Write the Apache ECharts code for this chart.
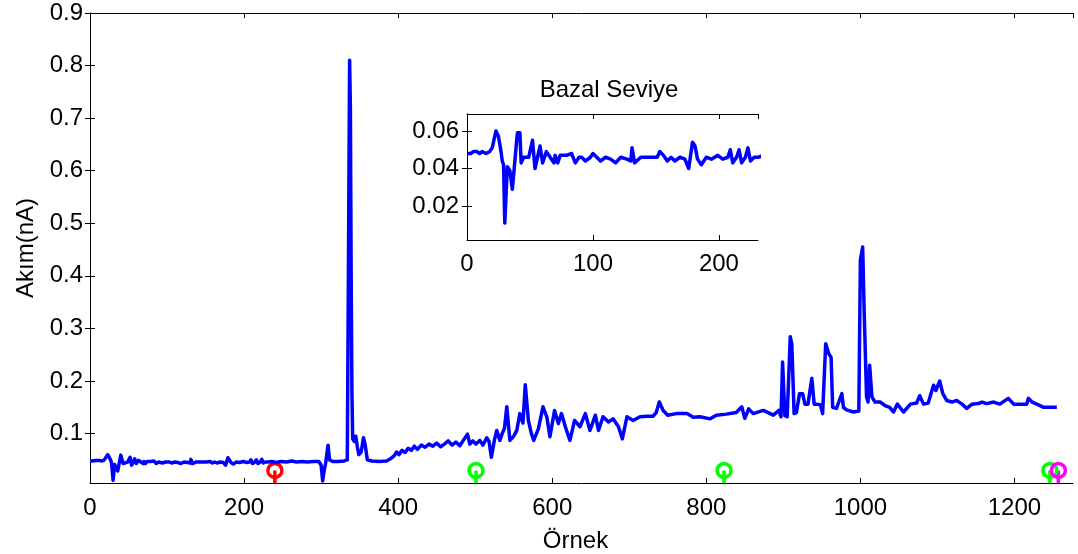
<!DOCTYPE html>
<html>
<head>
<meta charset="utf-8">
<script src="https://cdn.jsdelivr.net/npm/echarts@6/dist/echarts.min.js"></script>
<style>html,body{margin:0;padding:0;background:#fff}#c{width:1078px;height:554px}</style>
</head>
<body>
<div id="c"></div>
<script>
// Sample index (Örnek) and current (Akım, nA)
const sampleIdx = [0,3,5,8,10,12,15,18,20,23,25,27,28,29,30,32,34,36,38,40,42,43,45,49,52,54,56,58,60,63,66,69,70,72,74,79,83,86,89,91,94,98,100,103,106,110,114,118,122,127,130,131,133,138,143,151,153,156,159,162,165,169,173,176,179,181,183,186,190,194,199,203,207,209,211,214,216,218,221,223,225,228,231,
236,242,248,255,262,268,275,282,290,297,300,302,304,306,309,311,315,322,330,334,335,337,338,339,340,341,343,345,347,349,352,355,357,360,366,375,385,390,395,398,401,405,409,413,417,421,425,430,435,440,445,450,455,460,465,470,475,480,485,490,493,497,501,506,510,515,518,521,525,528,532,535,538,541,545,550,554,558,562,565,569,573,576,582,588,593,597,603,608,612,617,623,629,636,643,649,656,660,666,673,679,686,691,697,705,714,723,731,735,739,744,750,761,775,783,792,805,813,826,839,846,850,855,861,874,887,894,897,899,902,905,909,911,914,917,921,925,928,932,937,940,943,948,951,955,959,962,964,969,976,978,982,991,998,1000,1003,1005,1008,1010,1012,1015,1019,1026,1032,1038,1043,1048,1056,1065,1073,1077,1082,1088,1095,1098,1103,1107,1112,1119,1125,1132,1138,1145,1153,1158,1164,1173,1181,1192,1199,1216,1218,1223,1229,1238,1246,1255];
const current = [0.048,0.048,0.049,0.049,0.048,0.049,0.048,0.049,0.051,0.060,0.057,0.049,0.044,0.042,0.011,0.041,0.039,0.029,0.044,0.059,0.059,0.043,0.046,0.046,0.055,0.040,0.046,0.052,0.043,0.049,0.046,0.043,0.047,0.043,0.047,0.047,0.048,0.043,0.046,0.046,0.044,0.046,0.048,0.046,0.044,0.046,0.045,0.043,0.046,0.045,0.044,0.051,0.043,0.046,0.046,0.046,0.049,0.047,0.044,0.046,0.044,0.046,0.045,0.040,0.054,0.052,0.045,0.042,0.046,0.045,0.047,0.045,0.046,0.050,0.043,0.046,0.050,0.043,0.046,0.051,0.044,0.046,0.046,
0.047,0.045,0.047,0.046,0.048,0.046,0.047,0.046,0.047,0.047,0.040,0.010,0.030,0.045,0.078,0.050,0.047,0.047,0.048,0.050,0.30,0.81,0.72,0.40,0.18,0.09,0.085,0.095,0.075,0.060,0.065,0.092,0.080,0.050,0.048,0.047,0.048,0.052,0.058,0.065,0.060,0.068,0.064,0.072,0.068,0.076,0.070,0.078,0.074,0.080,0.076,0.082,0.075,0.080,0.086,0.078,0.084,0.077,0.088,0.099,0.080,0.086,0.080,0.087,0.078,0.092,0.085,0.055,0.088,0.106,0.087,0.100,0.110,0.151,0.087,0.095,0.106,0.138,0.120,0.193,0.125,0.100,0.087,0.109,0.151,0.132,0.094,0.144,0.119,0.138,0.113,0.087,0.125,0.113,0.138,0.106,0.135,0.106,0.132,0.122,0.128,0.113,0.090,0.132,0.125,0.132,0.133,0.133,0.140,0.160,0.144,0.135,0.138,0.138,0.131,0.132,0.128,0.135,0.137,0.140,0.151,0.129,0.147,0.138,0.144,0.135,0.144,0.132,0.236,0.134,0.132,0.284,0.270,0.138,0.140,0.176,0.176,0.156,0.156,0.205,0.156,0.156,0.155,0.138,0.271,0.252,0.245,0.150,0.148,0.176,0.150,0.145,0.141,0.143,0.43,0.455,0.329,0.170,0.160,0.230,0.170,0.160,0.160,0.153,0.150,0.141,0.156,0.141,0.156,0.158,0.172,0.156,0.158,0.192,0.182,0.200,0.176,0.163,0.160,0.163,0.156,0.148,0.156,0.157,0.160,0.157,0.160,0.156,0.167,0.156,0.156,0.167,0.160,0.156,0.150,0.150,0.150];

// Event markers (stems)
const markerX = [240, 501, 823, 1246, 1257];
const markerY = [0.03, 0.03, 0.03, 0.03, 0.03];
const markerColors = ['#ff0000', '#00ff00', '#00ff00', '#00ff00', '#ff00ff'];

// Tick labels
const mainYTicks = [0.1,0.2,0.3,0.4,0.5,0.6,0.7,0.8,0.9];
const insetYTicks = [0.02,0.04,0.06];

const xTitle = 'Örnek';
const yTitle = 'Akım(nA)';
const insetTitle = 'Bazal Seviye';

const FONT = "'Liberation Sans', Arial, sans-serif";
const MAIN_YMIN = 0.006, MAIN_YMAX = 0.9;
const INSET_YMIN = 0.002, INSET_YMAX = 0.069;

const lineData = sampleIdx.map((x, i) => [x, current[i]]);

const axisLine = {show: true, lineStyle: {color: '#000', width: 1}};
const tickIn = {show: true, inside: true, length: 5, lineStyle: {color: '#000', width: 1}};
const lblStyle = {color: '#000', fontSize: 24, fontFamily: FONT};
const plainNum = v => String(Math.round(v));

const series = [];
markerX.forEach((x, i) => {
  const c = markerColors[i];
  series.push({
    type: 'line', xAxisIndex: 0, yAxisIndex: 0,
    data: [[x, MAIN_YMIN], [x, markerY[i]]],
    lineStyle: {color: c, width: 3.5}, itemStyle: {color: c},
    showSymbol: false, symbol: 'none', silent: true, z: 2
  });
  series.push({
    type: 'scatter', xAxisIndex: 0, yAxisIndex: 0,
    data: [[x, markerY[i]]], symbol: 'circle', symbolSize: 14,
    itemStyle: {color: 'rgba(0,0,0,0)', borderColor: c, borderWidth: 3.5, opacity: 1},
    silent: true, z: 2
  });
});
series.push({
  type: 'line', xAxisIndex: 0, yAxisIndex: 0, data: lineData,
  showSymbol: false, lineStyle: {color: '#0000ff', width: 3.5, join: 'round'}, z: 3
});
series.push({
  type: 'line', xAxisIndex: 2, yAxisIndex: 2, data: lineData,
  showSymbol: false, lineStyle: {color: '#0000ff', width: 3.5, join: 'round'}, clip: true, z: 5
});

const option = {
  animation: false,
  backgroundColor: '#fff',
  title: {
    text: insetTitle, left: 604, top: 73, textAlign: 'center',
    textStyle: {color: '#000', fontSize: 24, fontWeight: 'normal', fontFamily: FONT}
  },
  grid: [
    {left: 90, top: 13, width: 983, height: 470, show: false, containLabel: false, outerBoundsMode: 'none'},
    {left: 467, top: 114, width: 291, height: 126, show: true, backgroundColor: '#fff', borderWidth: 0, z: 4,
     containLabel: false, outerBoundsMode: 'none'}
  ],
  xAxis: [
    {type: 'value', gridIndex: 0, position: 'bottom', min: 0, max: 1276, interval: 200,
     axisLine, axisTick: tickIn, splitLine: {show: false},
     axisLabel: Object.assign({margin: 13, showMaxLabel: false, formatter: plainNum}, lblStyle),
     name: xTitle, nameLocation: 'middle', nameGap: 43,
     nameTextStyle: Object.assign({padding: [3, 12, 0, 0]}, lblStyle)},
    {type: 'value', gridIndex: 0, position: 'top', min: 0, max: 1276, interval: 200,
     axisLine, axisTick: tickIn, splitLine: {show: false}, axisLabel: {show: false}},
    {type: 'value', gridIndex: 1, position: 'bottom', min: 0, max: 231, interval: 100,
     axisLine, axisTick: tickIn, splitLine: {show: false},
     axisLabel: Object.assign({margin: 12, showMaxLabel: false, formatter: plainNum}, lblStyle), z: 6},
    {type: 'value', gridIndex: 1, position: 'top', min: 0, max: 231, interval: 100,
     axisLine, axisTick: tickIn, splitLine: {show: false}, axisLabel: {show: false}, z: 6}
  ],
  yAxis: [
    {type: 'value', gridIndex: 0, position: 'left', min: MAIN_YMIN, max: MAIN_YMAX,
     axisLine, axisTick: Object.assign({customValues: mainYTicks}, tickIn), splitLine: {show: false},
     axisLabel: Object.assign({customValues: mainYTicks, margin: 7, formatter: v => v.toFixed(1)}, lblStyle),
     name: yTitle, nameLocation: 'middle', nameGap: 51, nameTextStyle: lblStyle},
    {type: 'value', gridIndex: 0, position: 'right', min: MAIN_YMIN, max: MAIN_YMAX,
     axisLine, axisTick: Object.assign({customValues: mainYTicks}, tickIn), splitLine: {show: false},
     axisLabel: {show: false}},
    {type: 'value', gridIndex: 1, position: 'left', min: INSET_YMIN, max: INSET_YMAX,
     axisLine, axisTick: Object.assign({customValues: insetYTicks}, tickIn), splitLine: {show: false},
     axisLabel: Object.assign({customValues: insetYTicks, margin: 8, formatter: v => v.toFixed(2)}, lblStyle), z: 6},
    {type: 'value', gridIndex: 1, position: 'right', min: INSET_YMIN, max: INSET_YMAX,
     axisLine, axisTick: Object.assign({customValues: insetYTicks}, tickIn), splitLine: {show: false},
     axisLabel: {show: false}, z: 6}
  ],
  series
};
const chart = echarts.init(document.getElementById('c'), null, {renderer: 'canvas'});
chart.setOption(option);
</script>
</body>
</html>
